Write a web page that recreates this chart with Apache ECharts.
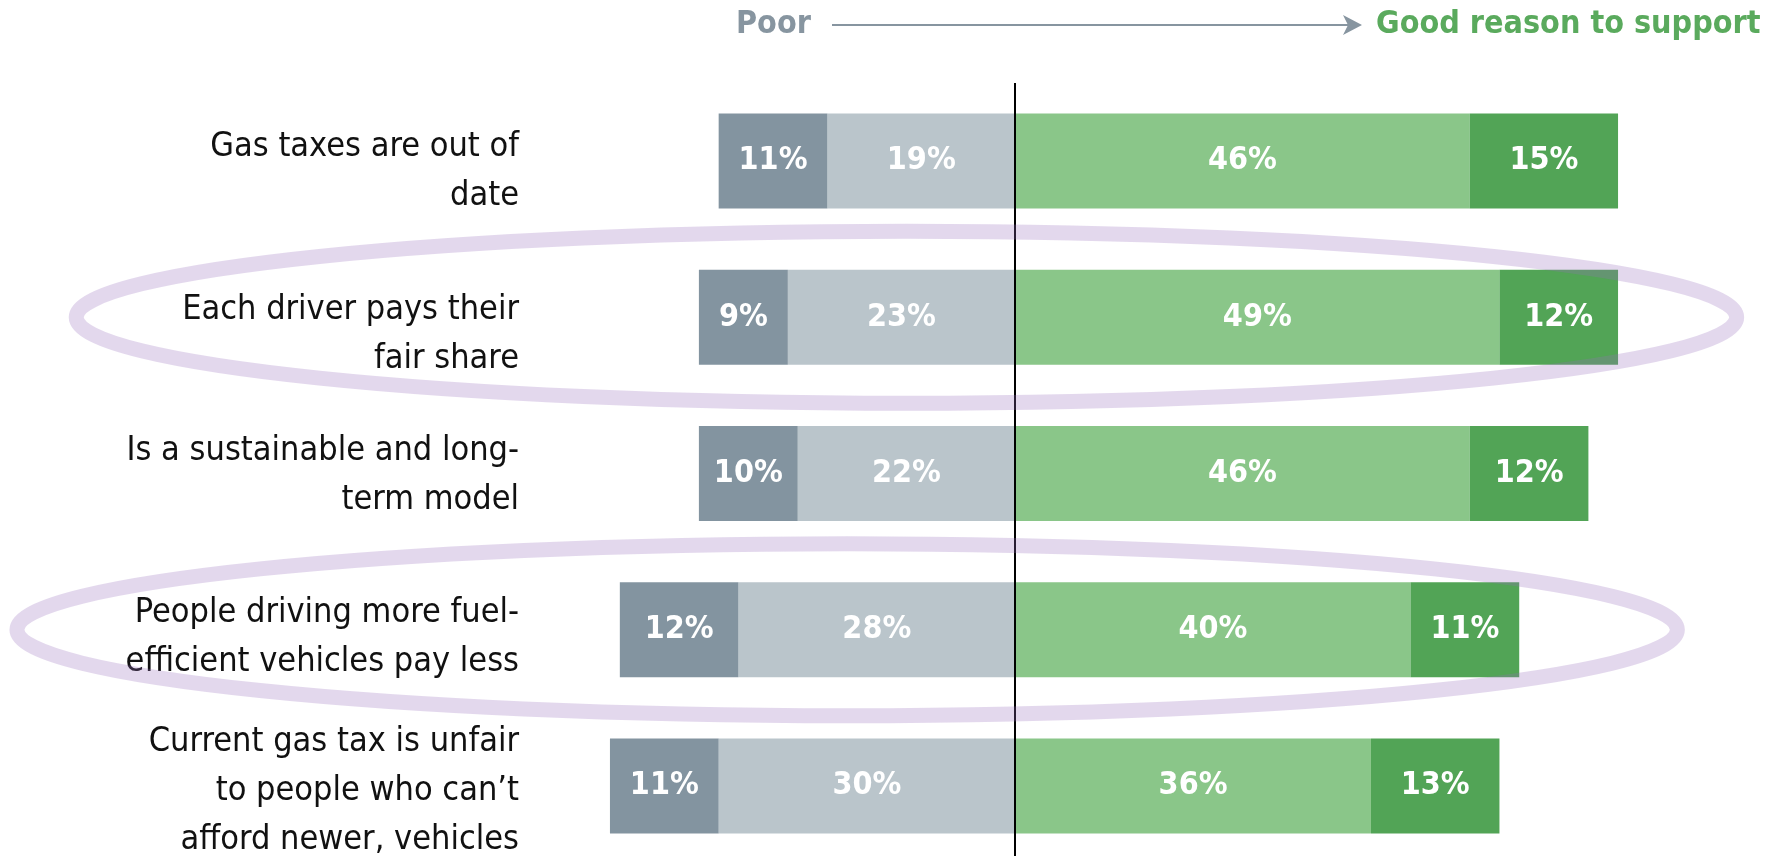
<!DOCTYPE html>
<html>
<head>
<meta charset="utf-8">
<script src="https://cdn.jsdelivr.net/npm/echarts@6/dist/echarts.min.js"></script>
<style>
  html, body { margin: 0; padding: 0; background: #fff; }
  #chart { width: 1780px; height: 856px; }
</style>
</head>
<body>
<div id="chart"></div>
<script>
const categories = [
    'Gas taxes are out of\ndate',
    'Each driver pays their\nfair share',
    'Is a sustainable and long-\nterm model',
    'People driving more fuel-\nefficient vehicles pay less',
    'Current gas tax is unfair\nto people who can\u2019t\nafford newer, vehicles'
];
const strongPoor = [11, 9, 10, 12, 11];
const poor = [19, 23, 22, 28, 30];
const good = [46, 49, 46, 40, 36];
const strongGood = [15, 12, 12, 11, 13];
const highlighted = [1, 3];

const FONT = "'Liberation Sans Narrow', 'Arial Narrow', 'DejaVu Sans Condensed', sans-serif";
// how far each category label sits below its bar centre (px)
const labelDrop = [11, 17, 2, 8, 5];

const chart = echarts.init(document.getElementById('chart'));

// one stacked segment; negative side is drawn by flipping the sign
function segment(name, values, color, sign) {
    return {
        name: name,
        type: 'bar',
        stack: 'total',
        barWidth: 95,
        data: values.map(v => sign * v),
        itemStyle: { color: color },
        label: {
            show: true,
            position: 'inside',
            color: '#fff',
            fontSize: 32,
            fontWeight: 'bold',
            fontFamily: FONT,
            formatter: p => Math.abs(p.value) + '%'
        }
    };
}

const series = [
    segment('Poor', poor, '#bac5cb', -1),
    segment('Very poor', strongPoor, '#8394a0', -1),
    segment('Good', good, '#8ac689', 1),
    segment('Very good', strongGood, '#52a456', 1)
];

// zero line between the two sides
series[2].markLine = {
    silent: true,
    symbol: 'none',
    label: { show: false },
    lineStyle: { color: '#000', width: 2, type: 'solid' },
    data: [{ xAxis: 0 }]
};

const rich = {
    t: { fontSize: 34, lineHeight: 49, fontFamily: FONT, color: '#111', align: 'right' }
};
labelDrop.forEach((d, i) => {
    rich['g' + i] = { fontSize: 1, lineHeight: d * 2 };
});

chart.setOption({
    animation: false,
    backgroundColor: '#fff',
    grid: { left: 521, right: 73, top: 83, height: 781, outerBoundsMode: 'none' },
    xAxis: {
        type: 'value',
        min: -50,
        max: 70,
        show: false
    },
    yAxis: {
        type: 'category',
        data: categories,
        inverse: true,
        axisLine: { show: false },
        axisTick: { show: false },
        axisLabel: {
            margin: 2,
            align: 'right',
            formatter: (value, idx) => '{g' + idx + '| }\n' +
                value.split('\n').map(l => '{t|' + l + '}').join('\n'),
            rich: rich
        }
    },
    series: series
});

// header + highlight ovals, placed through the chart's own scales
const ovalSpan = { 1: [-95, 73], 3: [-101, 67] };
const graphics = [
    {
        type: 'text', x: 736, y: 25,
        style: { text: 'Poor', fill: '#8795a0', font: 'bold 32px ' + FONT, verticalAlign: 'middle' }
    },
    {
        type: 'line',
        shape: { x1: 832, y1: 25, x2: 1352, y2: 25 },
        style: { stroke: '#8795a0', lineWidth: 2 }
    },
    {
        type: 'polygon',
        shape: { points: [[1362, 25], [1343, 15], [1348, 25], [1343, 35]] },
        style: { fill: '#8795a0' }
    },
    {
        type: 'text', x: 1376, y: 25,
        style: { text: 'Good reason to support', fill: '#5aaa5d', font: 'bold 32px ' + FONT, verticalAlign: 'middle' }
    }
];

highlighted.forEach(i => {
    const cy = chart.convertToPixel({ yAxisIndex: 0 }, categories[i]);
    const x0 = chart.convertToPixel({ xAxisIndex: 0 }, ovalSpan[i][0]);
    const x1 = chart.convertToPixel({ xAxisIndex: 0 }, ovalSpan[i][1]);
    graphics.push({
        type: 'ellipse',
        silent: true,
        z: 100,
        shape: { cx: (x0 + x1) / 2, cy: cy, rx: (x1 - x0) / 2, ry: 86 },
        style: { fill: 'none', stroke: 'rgba(150, 110, 190, 0.27)', lineWidth: 15 }
    });
});

chart.setOption({ graphic: graphics });
</script>
</body>
</html>
